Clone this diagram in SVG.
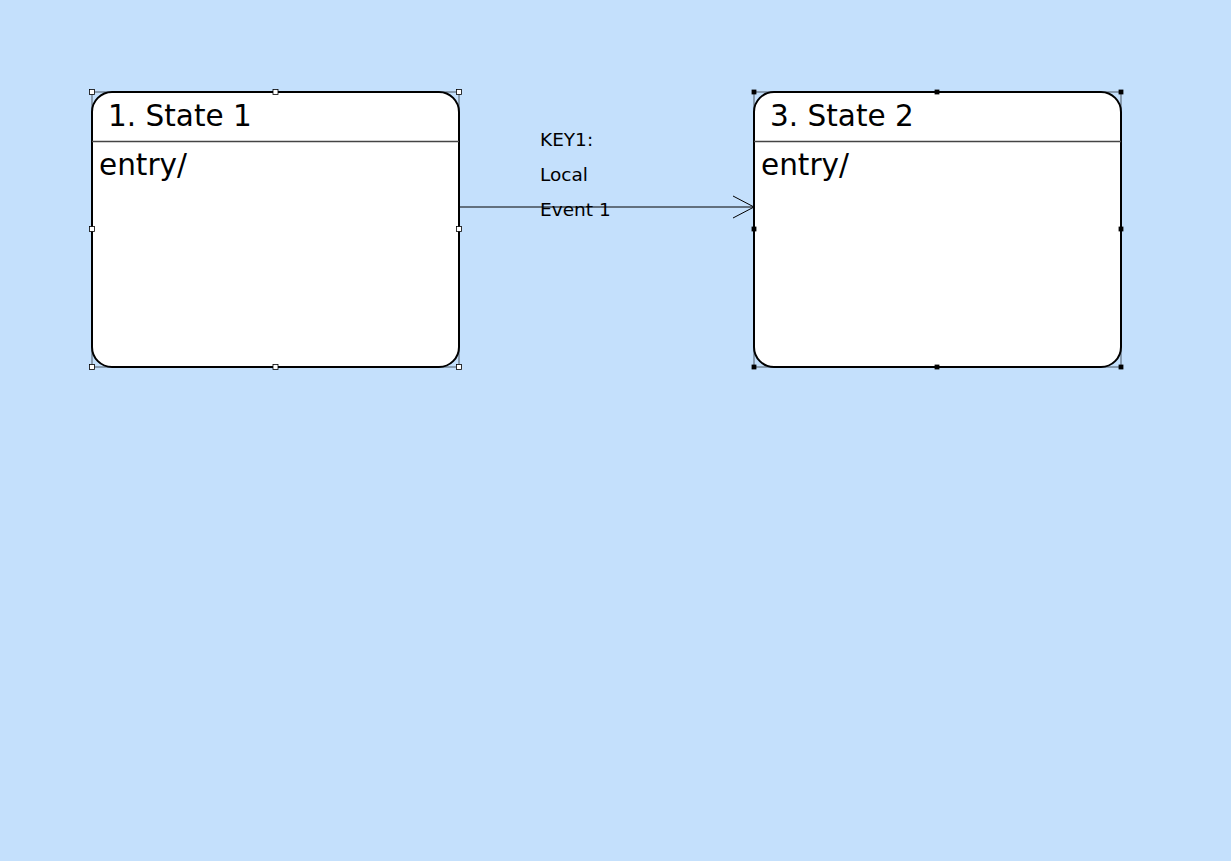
<svg xmlns="http://www.w3.org/2000/svg" width="1231" height="861" viewBox="0 0 1231 861">
<style>
.state{fill:#fff;stroke:#000;stroke-width:2}
.sep{stroke:#444;stroke-width:1.5}
.sel{fill:none;stroke:#000;stroke-width:0.6}
.hw{fill:#fff;stroke:#000;stroke-width:0.8}
.hb{fill:#000;stroke:#000;stroke-width:0.8}
.title{font-family:"DejaVu Sans",sans-serif;font-size:29.5px;fill:#000}
.lbl{font-family:"DejaVu Sans",sans-serif;font-size:18.5px;fill:#000}
.conn{stroke:#000;stroke-width:1;fill:none}
</style>
<rect x="0" y="0" width="1231" height="861" fill="#c4e0fc"/>
<g id="state1">
<rect class="sel" x="92" y="92" width="367" height="275"/>
<rect class="state" x="92" y="92" width="367" height="275" rx="20" ry="20"/>
<line class="sep" x1="92" y1="141.5" x2="459" y2="141.5"/>
<text class="title" x="108" y="126">1. State 1</text>
<text class="title" x="99" y="175">entry/</text>
<rect class="hw" x="89.5" y="89.5" width="5" height="5"/>
<rect class="hw" x="273" y="89.5" width="5" height="5"/>
<rect class="hw" x="456.5" y="89.5" width="5" height="5"/>
<rect class="hw" x="89.5" y="226.5" width="5" height="5"/>
<rect class="hw" x="456.5" y="226.5" width="5" height="5"/>
<rect class="hw" x="89.5" y="364.5" width="5" height="5"/>
<rect class="hw" x="273" y="364.5" width="5" height="5"/>
<rect class="hw" x="456.5" y="364.5" width="5" height="5"/>
</g>
<g id="state2">
<rect class="sel" x="754" y="92" width="367" height="275"/>
<rect class="state" x="754" y="92" width="367" height="275" rx="20" ry="20"/>
<line class="sep" x1="754" y1="141.5" x2="1121" y2="141.5"/>
<text class="title" x="770" y="126">3. State 2</text>
<text class="title" x="761" y="175">entry/</text>
<rect class="hb" x="752" y="90" width="4" height="4"/>
<rect class="hb" x="935" y="90" width="4" height="4"/>
<rect class="hb" x="1119" y="90" width="4" height="4"/>
<rect class="hb" x="752" y="227" width="4" height="4"/>
<rect class="hb" x="1119" y="227" width="4" height="4"/>
<rect class="hb" x="752" y="365" width="4" height="4"/>
<rect class="hb" x="935" y="365" width="4" height="4"/>
<rect class="hb" x="1119" y="365" width="4" height="4"/>
</g>
<g id="connectors">
<line class="conn" x1="459" y1="207" x2="754" y2="207"/>
<polyline class="conn" points="733,196 754,207 733,218"/>
<text class="lbl" x="540" y="146">KEY1:</text>
<text class="lbl" x="540" y="181">Local</text>
<text class="lbl" x="540" y="216">Event 1</text>
</g>
</svg>
